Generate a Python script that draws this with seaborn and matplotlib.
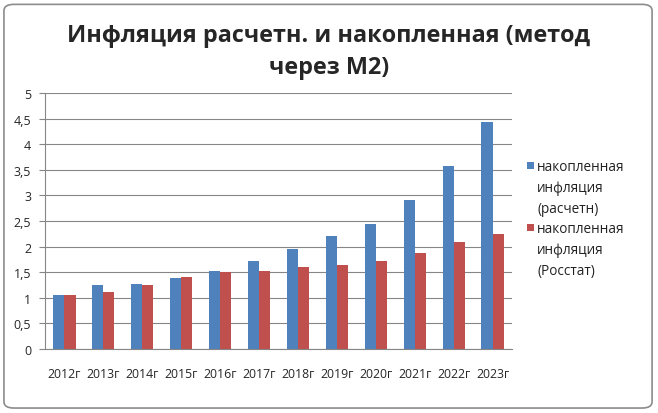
import matplotlib
matplotlib.use("Agg")
import matplotlib.pyplot as plt
import seaborn as sns
import pandas as pd
from matplotlib.patches import Rectangle, FancyBboxPatch

years = ["2012г", "2013г", "2014г", "2015г", "2016г", "2017г", "2018г",
         "2019г", "2020г", "2021г", "2022г", "2023г"]
calc = [1.06, 1.25, 1.27, 1.39, 1.53, 1.72, 1.96, 2.21, 2.44, 2.91, 3.58, 4.44]
rosstat = [1.06, 1.12, 1.25, 1.41, 1.50, 1.53, 1.60, 1.64, 1.72, 1.88, 2.09, 2.25]
series_names = ["накопленная\nинфляция\n(расчетн)", "накопленная\nинфляция\n(Росстат)"]
title = "Инфляция расчетн. и накопленная (метод\nчерез М2)"
colors = ["#4F81BD", "#C0504D"]

df = pd.DataFrame({
    "year": years * 2,
    "value": calc + rosstat,
    "series": [series_names[0]] * len(years) + [series_names[1]] * len(years),
})

sns.set_style("white")
plt.rcParams["font.family"] = ["Open Sans", "DejaVu Sans"]

W, H = 658, 414
fig = plt.figure(figsize=(W / 100, H / 100), dpi=100)
ax = fig.add_axes([45 / W, 64 / H, 467 / W, 256 / H])

sns.barplot(data=df, x="year", y="value", hue="series", palette=colors,
            width=0.57, ax=ax, legend=False, saturation=1, edgecolor="none")

ax.set_ylim(0, 5)
ax.set_yticks([0, 0.5, 1, 1.5, 2, 2.5, 3, 3.5, 4, 4.5, 5])
ax.set_yticklabels([f"{v:g}".replace(".", ",") for v in ax.get_yticks()], fontsize=9)
ax.set_xlim(-0.5, len(years) - 0.5)
ax.tick_params(axis="x", labelsize=8.8, length=0, pad=13)
ax.tick_params(axis="y", length=4, color="#868686", pad=6, direction="out", left=True)
ax.set_xlabel("")
ax.set_ylabel("")
ax.grid(axis="y", color="#868686", linewidth=0.8)
ax.set_axisbelow(True)
for s in ["top", "right"]:
    ax.spines[s].set_visible(False)
for s in ["left", "bottom"]:
    ax.spines[s].set_color("#868686")
    ax.spines[s].set_linewidth(0.8)

fig.text(0.5, 1 - 52 / H, title, ha="center", va="center", fontsize=16.8,
         fontweight="bold", linespacing=1.5)

# manual legend (squares aligned with the first text line, as in the original)
for i, (name, c) in enumerate(zip(series_names, colors)):
    y_top = 160 + i * 62
    fig.patches.append(Rectangle((527 / W, 1 - (y_top + 10) / H), 7 / W, 7 / H,
                                 transform=fig.transFigure, facecolor=c,
                                 edgecolor="none"))
    fig.text(537 / W, 1 - y_top / H, name, ha="left", va="top", fontsize=9.8,
             linespacing=1.55, color="#222222")

border = FancyBboxPatch((0.006, 0.012), 0.985, 0.975,
                        boxstyle="round,pad=0,rounding_size=0.015",
                        transform=fig.transFigure, facecolor="none",
                        edgecolor="#8c8c8c", linewidth=1.2)
fig.patches.append(border)

fig.savefig("out.png", dpi=100)
